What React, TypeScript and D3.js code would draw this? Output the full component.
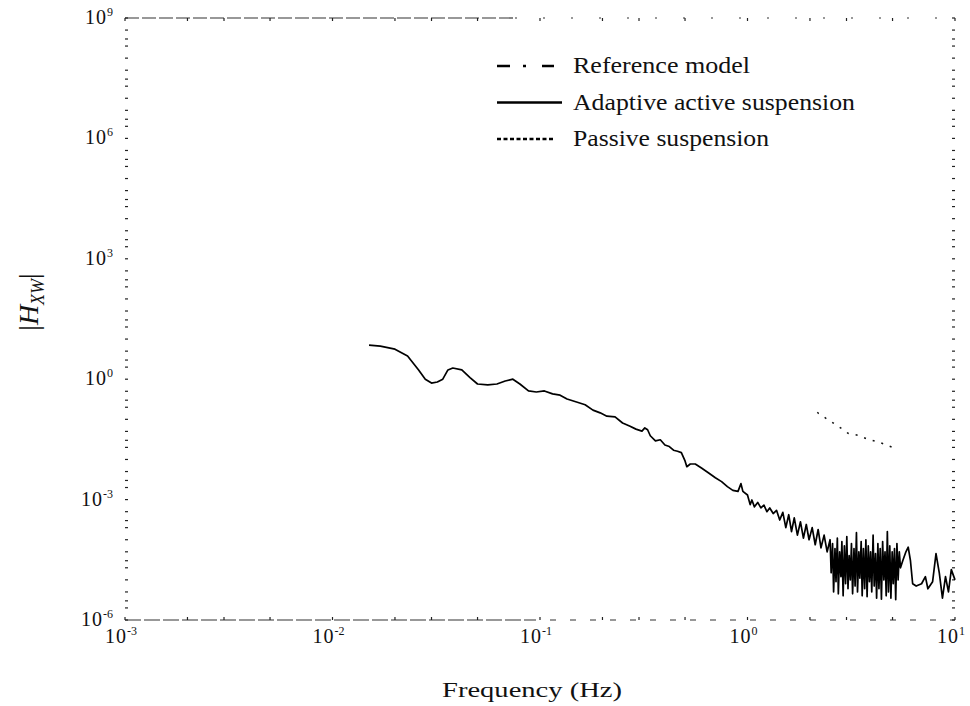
import React from "react";
import * as d3 from "d3";

// ---- Data ----
const xTickExps = [-3, -2, -1, 0, 1];
const yTickExps = [9, 6, 3, 0, -3, -6];
const minorMultiples = [1, 2, 3, 5];

const legendLabels = ["Reference model", "Adaptive active suspension", "Passive suspension"];

// Adaptive active suspension |H_xw| vs frequency (Hz)
const activeFreq = [
  0.015, 0.017, 0.020, 0.023, 0.026, 0.028, 0.030, 0.032, 0.034, 0.036, 0.038, 0.042, 0.046, 0.050,
  0.056, 0.062, 0.068, 0.074, 0.080, 0.088, 0.096, 0.105, 0.115, 0.125, 0.135, 0.15, 0.165, 0.18,
  0.195, 0.21, 0.23, 0.25, 0.27, 0.29, 0.31, 0.32, 0.33, 0.34, 0.36, 0.38, 0.40, 0.42, 0.44, 0.46,
  0.48, 0.50, 0.51, 0.53, 0.56, 0.60, 0.65, 0.70, 0.75, 0.80, 0.85, 0.90, 0.93, 0.95, 1.0, 1.03,
  1.05, 1.08, 1.12, 1.16, 1.20, 1.24, 1.28, 1.33, 1.38, 1.43, 1.48, 1.53, 1.58, 1.63, 1.68, 1.74,
  1.80, 1.86, 1.92, 1.98, 2.05, 2.12, 2.19, 2.26, 2.34, 2.42,
  2.50, 2.53, 2.57, 2.60, 2.64, 2.67, 2.71, 2.74, 2.78, 2.82, 2.85, 2.89, 2.93, 2.97, 3.01, 3.05,
  3.09, 3.13, 3.17, 3.21, 3.26, 3.30, 3.35, 3.39, 3.44, 3.48, 3.53, 3.57, 3.62, 3.67, 3.72, 3.77,
  3.82, 3.87, 3.92, 3.97, 4.03, 4.08, 4.14, 4.19, 4.25, 4.30, 4.36, 4.42, 4.48, 4.54, 4.60, 4.66,
  4.72, 4.78, 4.85, 4.91, 4.98, 5.04, 5.11, 5.18, 5.25, 5.32, 5.39, 5.46,
  5.6, 5.8, 5.95, 6.1, 6.25, 6.5, 6.9, 7.2, 7.4, 7.8, 8.1, 8.4, 8.7, 9.0, 9.3, 9.6, 10.0,
];
const activeMag = [
  7.1, 6.7, 5.6, 3.8, 1.7, 1.0, 0.80, 0.85, 1.0, 1.7, 1.9, 1.7, 1.1, 0.76,
  0.72, 0.76, 0.9, 1.0, 0.76, 0.51, 0.48, 0.51, 0.43, 0.40, 0.32, 0.27, 0.23, 0.17,
  0.145, 0.12, 0.115, 0.081, 0.068, 0.057, 0.051, 0.061, 0.055, 0.039, 0.029, 0.031, 0.023, 0.021, 0.017, 0.016,
  0.0148, 0.0092, 0.0066, 0.0077, 0.0077, 0.0061, 0.0046, 0.0035, 0.0028, 0.0021, 0.0017, 0.0016, 0.0025, 0.0016, 0.0013, 0.00075,
  0.00098, 0.00066, 0.00085, 0.00062, 0.00073, 0.00050, 0.00062, 0.00045, 0.00054, 0.00031, 0.00048, 0.00020, 0.00042, 0.00016, 0.00035, 0.00013,
  0.00028, 0.00011, 0.00024, 0.0001, 0.00020, 7.5e-5, 0.00018, 6.3e-5, 0.00013, 5e-5,
  1e-4, 1.5e-5, 8e-5, 5e-6, 6e-5, 9e-6, 1.1e-4, 4.5e-6, 5e-5, 1.2e-5, 9e-5, 4e-6, 7e-5, 8e-6, 1.2e-4, 6e-6,
  4e-5, 1e-5, 8e-5, 4.5e-6, 6e-5, 7e-6, 1.5e-4, 5e-6, 5e-5, 1.1e-5, 9e-5, 4e-6, 6e-5, 6e-6, 1e-4, 3.8e-6,
  7e-5, 9e-6, 5e-5, 5e-6, 1.3e-4, 7e-6, 4.5e-5, 3.5e-6, 8e-5, 6e-6, 6e-5, 3.3e-6, 9e-5, 1e-5, 5e-5, 4e-6,
  1.6e-4, 5e-6, 7e-5, 3.5e-6, 5e-5, 8e-6, 6e-5, 3.2e-6, 8e-5, 1e-5, 5e-5, 2e-5,
  3e-5, 5e-5, 6.5e-5, 3e-5, 8e-6, 7e-6, 8e-6, 1.2e-5, 6e-6, 9e-6, 4.5e-5, 1.5e-5, 3.5e-6, 1.2e-5, 5e-6, 1.8e-5, 1e-5,
];

// Visible fragments of the reference model curve
const referenceFreq = [2.17, 2.2, 2.9, 3.05, 3.4, 3.8, 4.3, 5.0];
const referenceMag = [0.15, 0.14, 0.055, 0.045, 0.04, 0.032, 0.027, 0.02];

// ---- Layout ----
const W = 970;
const H = 706;
const left = 125;
const right = 955;
const top = 18;
const bottom = 620;

const serif = "'Liberation Serif', 'Times New Roman', Times, serif";

export default function App() {
  const x = d3.scaleLog().domain([1e-3, 10]).range([left, right]);
  const y = d3.scaleLog().domain([1e-6, 1e9]).range([bottom, top]);

  const line = d3
    .line<[number, number]>()
    .x((d) => x(d[0]))
    .y((d) => y(d[1]));

  const active: [number, number][] = activeFreq.map((f, i) => [f, activeMag[i]]);
  const reference: [number, number][] = referenceFreq.map((f, i) => [f, referenceMag[i]]);

  const xMinor: number[] = [];
  for (let e = -3; e < 1; e++) for (const k of minorMultiples) xMinor.push(k * Math.pow(10, e));
  xMinor.push(10);
  const yMinor: number[] = [];
  for (let e = -6; e < 9; e++) for (const k of minorMultiples) yMinor.push(k * Math.pow(10, e));
  yMinor.push(1e9);

  const tickStroke = "#222";

  return (
    <svg
      width={W}
      height={H}
      style={{ position: "absolute", left: 0, top: 0, background: "#fff" }}
      fontFamily={serif}
    >
      <rect x={0} y={0} width={W} height={H} fill="#fff" />

      {/* frame (scanned, broken look) */}
      <line x1={left} y1={top} x2={515} y2={top} stroke="#333" strokeWidth={1.2} strokeDasharray="14 3" />
      <line x1={515} y1={top} x2={right} y2={top} stroke="#333" strokeWidth={1.2} strokeDasharray="2 26" />
      <line x1={left} y1={bottom} x2={530} y2={bottom} stroke="#333" strokeWidth={1.2} strokeDasharray="16 3" />
      <line x1={530} y1={bottom} x2={right} y2={bottom} stroke="#333" strokeWidth={1.2} strokeDasharray="6 14" />

      {/* ticks */}
      {yMinor.map((v, i) => (
        <g key={"ym" + i}>
          <line x1={left} x2={left + 3} y1={y(v)} y2={y(v)} stroke={tickStroke} strokeWidth={1.2} />
          <line x1={right} x2={right - 3} y1={y(v)} y2={y(v)} stroke={tickStroke} strokeWidth={1.2} />
        </g>
      ))}
      {xMinor.map((v, i) => (
        <g key={"xm" + i}>
          <line x1={x(v)} x2={x(v)} y1={bottom} y2={bottom - 3} stroke={tickStroke} strokeWidth={1.2} />
          <line x1={x(v)} x2={x(v)} y1={top} y2={top + 3} stroke={tickStroke} strokeWidth={1.2} />
        </g>
      ))}

      {/* y tick labels */}
      {yTickExps.map((e) => (
        <text key={"yl" + e} x={113} y={y(Math.pow(10, e)) + 6} textAnchor="end" fontSize={20} fill="#111">
          <tspan letterSpacing={1}>10</tspan>
          <tspan fontSize={12} dy={-8}>{String(e)}</tspan>
        </text>
      ))}

      {/* x tick labels */}
      {xTickExps.map((e) => (
        <text key={"xl" + e} x={x(Math.pow(10, e)) - 4} y={643} textAnchor="middle" fontSize={20} fill="#111">
          <tspan letterSpacing={1}>10</tspan>
          <tspan fontSize={12} dy={-8}>{String(e)}</tspan>
        </text>
      ))}

      {/* axis titles */}
      <text x={532} y={697} textAnchor="middle" fontSize={21} fill="#111" textLength={180} lengthAdjust="spacingAndGlyphs">
        Frequency (Hz)
      </text>
      <text transform="translate(38,302) rotate(-90)" textAnchor="middle" fontSize={28} fill="#111">
        |<tspan fontStyle="italic">H</tspan>
        <tspan fontSize={18} dy={6} fontStyle="italic">XW</tspan>
        <tspan dy={-6}>|</tspan>
      </text>

      {/* data */}
      <path d={line(reference) || ""} fill="none" stroke="#111" strokeWidth={1.5} strokeDasharray="2 7" />
      <path d={line(active) || ""} fill="none" stroke="#000" strokeWidth={1.7} strokeLinejoin="round" />

      {/* legend */}
      {legendLabels.map((lab, i) => {
        const ly = 66 + i * 36.5;
        const dash = i === 0 ? "13 13 3 16 12" : i === 2 ? "4 2.5" : undefined;
        const widths = [177, 282, 196];
        return (
          <g key={"lg" + i}>
            <line x1={497} x2={i === 1 ? 562 : 555} y1={ly} y2={ly} stroke="#000" strokeWidth={i === 1 ? 2.5 : 2.4} strokeDasharray={dash} />
            <text x={573} y={ly + 7} fontSize={23} fill="#111" textLength={widths[i]} lengthAdjust="spacingAndGlyphs">
              {lab}
            </text>
          </g>
        );
      })}
    </svg>
  );
}
